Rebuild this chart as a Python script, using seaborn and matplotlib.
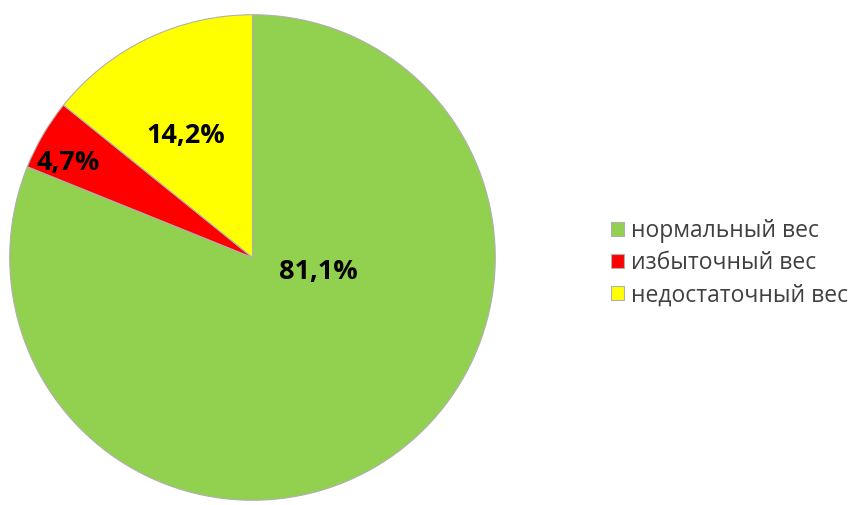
import matplotlib
matplotlib.use('Agg')
import matplotlib.pyplot as plt
import seaborn as sns

# data
categories = ['нормальный вес', 'избыточный вес', 'недостаточный вес']
shares = [81.1, 4.7, 14.2]
pct_labels = ['81,1%', '4,7%', '14,2%']
colors = ['#92D050', '#FF0000', '#FFFF00']

sns.set_theme(style='white')
plt.rcParams['font.family'] = ['Open Sans', 'DejaVu Sans']

fig = plt.figure(figsize=(8.55, 5.05), dpi=100)
ax = fig.add_axes([9 / 855, 4 / 505, 487 / 855, 487 / 505])
wedges, _ = ax.pie(shares, colors=colors, startangle=90, counterclock=False,
                   radius=1, wedgeprops=dict(edgecolor='#b0b0b0', linewidth=0.8))
ax.set_xlim(-1.003, 1.003)
ax.set_ylim(-1.003, 1.003)
ax.set_aspect('equal')

# label positions (Excel "best fit" style)
label_pos = [(0.27, -0.06), (-0.76, 0.39), (-0.275, 0.50)]
for (x, y), txt in zip(label_pos, pct_labels):
    ax.text(x, y, txt, ha='center', va='center', fontsize=19.5, fontweight='bold', color='black')

leg = fig.legend(wedges, categories, loc='center left', bbox_to_anchor=(611 / 855, 1 - 263 / 505),
                 frameon=False, fontsize=16.5, handlelength=0.58, handleheight=0.58,
                 handletextpad=0.3, labelspacing=0.36, borderaxespad=0, borderpad=0)
for t in leg.get_texts():
    t.set_color('#404040')

fig.savefig('out.png', dpi=100)
